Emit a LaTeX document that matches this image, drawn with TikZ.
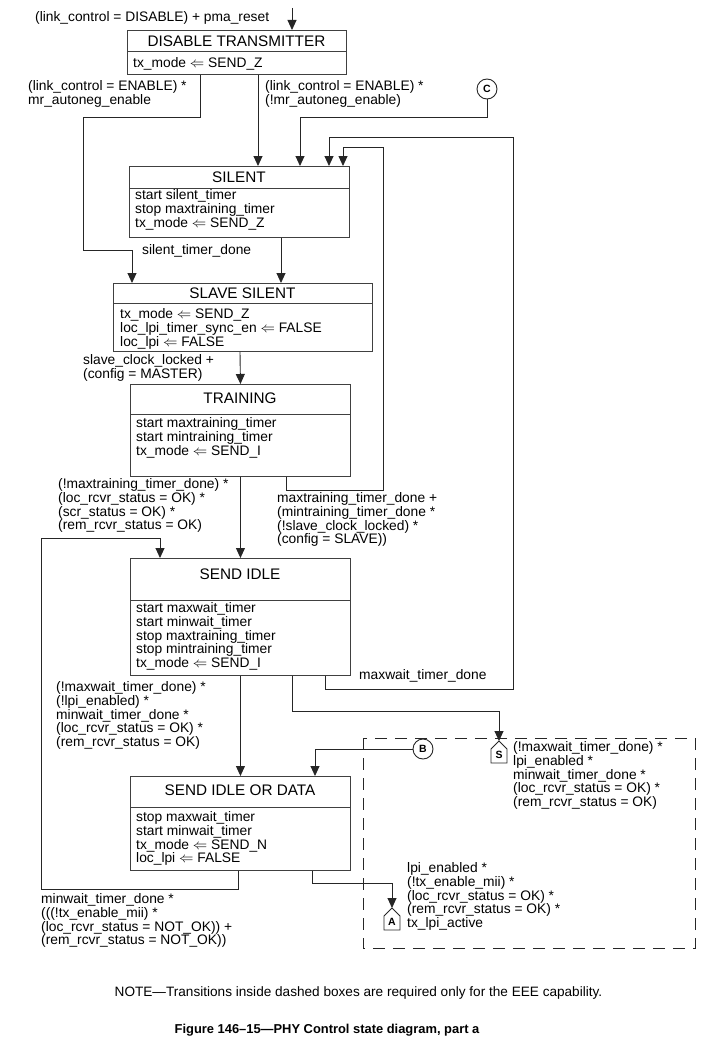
\documentclass[tikz,border=0pt]{standalone}
\usepackage{fontspec}
\setmainfont{Liberation Sans}
\usetikzlibrary{calc,arrows.meta}
% off-page house marker: node name = letter, (#2in) = entry point at the apex
\def\housemark(#1)#2{%
  \node[housetag] (#2) at (#1) {#2};
  \coordinate (#2in) at ($(#2)+(0,-14)$);
  \draw[link] (#2in) -- ($(#2)+(8,-6)$) -- ($(#2)+(8,8)$) -- ($(#2)+(-8,8)$) -- ($(#2)+(-8,-6)$) -- cycle;}
\tikzset{
  statebox/.style={draw=black!75, line width=0.9pt, anchor=north west, inner sep=0pt},
  ttl/.style={font=\fontsize{15.3}{16}\selectfont, inner sep=0pt},
  txt/.style={font=\fontsize{13.8}{13.9}\selectfont, align=left, anchor=north west, inner sep=0pt},
  link/.style={draw=black!85, line width=0.9pt},
  arr/.style={link, -{Triangle[length=10pt,width=9pt]}},
  conn/.style={circle, draw=black!85, line width=0.9pt, minimum size=20pt, inner sep=0pt, font=\fontsize{10.5}{10.5}\selectfont\bfseries},
  housetag/.style={inner sep=0pt, font=\fontsize{10.5}{10.5}\selectfont\bfseries},
  eeebox/.style={draw=black!85, line width=0.9pt, dash pattern=on 12pt off 8pt},
}
\begin{document}
\begin{tikzpicture}[x=1pt,y=-1pt]
\useasboundingbox (0,0) rectangle (706,1041);

%%%%% states %%%%%
\node[statebox, minimum width=219pt, minimum height=44pt] (dis) at (127,30) {};
\node[ttl] (disT) at (236.5,41) {DISABLE TRANSMITTER};
\draw[statebox] (127,51) -- (346,51);
\node[txt] (disB) at (133,57) {tx\_mode $\Leftarrow$ SEND\_Z};

\node[statebox, minimum width=220pt, minimum height=71pt] (silent) at (129,166) {};
\node[ttl] (silentT) at (239,177) {SILENT};
\draw[statebox] (129,188) -- (349,188);
\node[txt] (silentB) at (135,189) {start silent\_timer\\stop maxtraining\_timer\\tx\_mode $\Leftarrow$ SEND\_Z};

\node[statebox, minimum width=259pt, minimum height=68pt] (slsil) at (113,283) {};
\node[ttl] (slsilT) at (242.5,293) {SLAVE SILENT};
\draw[statebox] (113,303) -- (372,303);
\node[txt] (slsilB) at (120,308) {tx\_mode $\Leftarrow$ SEND\_Z\\loc\_lpi\_timer\_sync\_en $\Leftarrow$ FALSE\\loc\_lpi $\Leftarrow$ FALSE};

\node[statebox, minimum width=220pt, minimum height=92pt] (train) at (130,384) {};
\node[ttl] (trainT) at (240,398) {TRAINING};
\draw[statebox] (130,414) -- (350,414);
\node[txt] (trainB) at (136,417) {start maxtraining\_timer\\start mintraining\_timer\\tx\_mode $\Leftarrow$ SEND\_I};

\node[statebox, minimum width=220pt, minimum height=117pt] (sidle) at (130,558) {};
\node[ttl] (sidleT) at (240,574) {SEND IDLE};
\draw[statebox] (130,600) -- (350,600);
\node[txt] (sidleB) at (136,602) {start maxwait\_timer\\start minwait\_timer\\stop maxtraining\_timer\\stop mintraining\_timer\\tx\_mode $\Leftarrow$ SEND\_I};

\node[statebox, minimum width=220pt, minimum height=94pt] (sidd) at (130,776) {};
\node[ttl] (siddT) at (240,790) {SEND IDLE OR DATA};
\draw[statebox] (130,807) -- (350,807);
\node[txt] (siddB) at (136,811) {stop maxwait\_timer\\start minwait\_timer\\tx\_mode $\Leftarrow$ SEND\_N\\loc\_lpi $\Leftarrow$ FALSE};

%%%%% connectors %%%%%
\node[conn] (C) at (487,89) {C};
\node[conn] (B) at (423,749) {B};
\housemark(499,755){S}
\housemark(392,922){A}
\coordinate (start) at (292,8);

\draw[arr] (start) -- (dis.north -| start);
\draw[arr] ([xshift=73pt]dis.south west) -- ++(0,43) -| (83,250) -| ([xshift=19pt]slsil.north west);
\draw[arr] ([xshift=131pt]dis.south west) -- ([xshift=129pt]silent.north west);
\draw[arr] (C.south) -- ++(0,18) -| ([xshift=171pt]silent.north west);
\draw[arr] ([xshift=195pt]sidle.south west) -- ++(0,14) -| (513,137) -| ([xshift=200pt]silent.north west);
\draw[arr] ([xshift=156pt]train.south west) -- ++(0,14) -| (383,147) -| ([xshift=214pt]silent.north west);
\draw[arr] ([xshift=152pt]silent.south west) -- ([xshift=168pt]slsil.north west);
\draw[arr] ([xshift=127pt]slsil.south west) -- (train.north);
\draw[arr] (train.south) -- (sidle.north);
\draw[arr] (sidle.south) -- (sidd.north);
\draw[arr] ([xshift=108pt]sidd.south west) -- ++(0,19) -| (41,538) -| ([xshift=30pt]sidle.north west);
\draw[arr] ([xshift=162pt]sidle.south west) -- ++(0,36) -| (Sin);
\draw[arr] (B.west) -| ([xshift=185pt]sidd.north west);
\draw[arr] ([xshift=182pt]sidd.south west) -- ++(0,13) -| (Ain);

\draw[eeebox] (363,738) rectangle (695,948);

%%%%% conditions %%%%%
\node[txt] (entryL) at (35,11) {(link\_control = DISABLE) + pma\_reset};
\node[txt] (enL) at (28,80) {(link\_control = ENABLE) *\\mr\_autoneg\_enable};
\node[txt] (enR) at (265,80) {(link\_control = ENABLE) *\\(!mr\_autoneg\_enable)};
\node[txt] (silL) at (142,244) {silent\_timer\_done};
\node[txt] (sclL) at (83,354) {slave\_clock\_locked +\\(config = MASTER)};
\node[txt] (trnL) at (58,478) {(!maxtraining\_timer\_done) *\\(loc\_rcvr\_status = OK) *\\(scr\_status = OK) *\\(rem\_rcvr\_status = OK)};
\node[txt] (trnR) at (277,492) {maxtraining\_timer\_done +\\(mintraining\_timer\_done *\\(!slave\_clock\_locked) *\\(config = SLAVE))};
\node[txt] (mwdL) at (359,669) {maxwait\_timer\_done};
\node[txt] (sidL) at (56,681) {(!maxwait\_timer\_done) *\\(!lpi\_enabled) *\\minwait\_timer\_done *\\(loc\_rcvr\_status = OK) *\\(rem\_rcvr\_status = OK)};
\node[txt] (botL) at (41,893) {minwait\_timer\_done *\\(((!tx\_enable\_mii) *\\(loc\_rcvr\_status = NOT\_OK)) +\\(rem\_rcvr\_status = NOT\_OK))};
\node[txt] (sL) at (513,741) {(!maxwait\_timer\_done) *\\lpi\_enabled *\\minwait\_timer\_done *\\(loc\_rcvr\_status = OK) *\\(rem\_rcvr\_status = OK)};
\node[txt] (aL) at (407,862) {lpi\_enabled *\\(!tx\_enable\_mii) *\\(loc\_rcvr\_status = OK) *\\(rem\_rcvr\_status = OK) *\\tx\_lpi\_active};

\node[font=\fontsize{13.6}{14}\selectfont, inner sep=0pt] (note) at (358.5,993) {NOTE---Transitions inside dashed boxes are required only for the EEE capability.};
\node[font=\fontsize{12.9}{14}\selectfont\bfseries, inner sep=0pt] (cap) at (327,1030) {Figure 146--15---PHY Control state diagram, part a};
\end{tikzpicture}
\end{document}
